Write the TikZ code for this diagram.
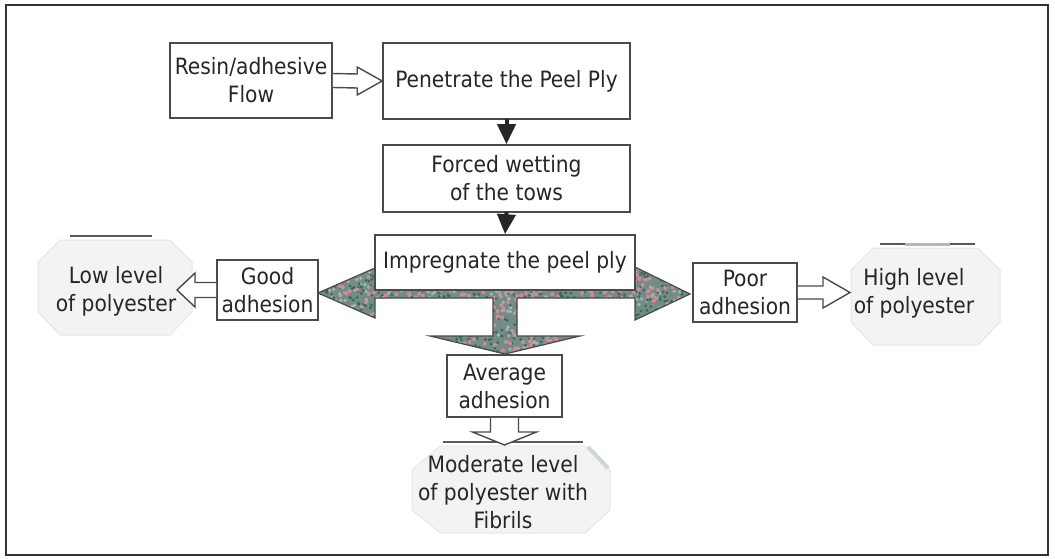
\documentclass[tikz,border=0pt]{standalone}
\usepackage{fontspec}
\setmainfont{DejaVu Sans Condensed}
\usetikzlibrary{arrows.meta,calc}
\definecolor{txt}{HTML}{262626}
\definecolor{edge}{HTML}{4A4A4A}
\definecolor{tealbase}{HTML}{748C86}
\definecolor{tealdark}{HTML}{2F6A60}
\definecolor{pinkdot}{HTML}{CF8C96}
\definecolor{lightdot}{HTML}{A9B5B1}
\definecolor{shade}{HTML}{F3F3F3}
\definecolor{shadeedge}{HTML}{E6E6E6}
\tikzset{
  stepbox/.style={draw=edge,line width=1.6pt,fill=white,text=txt,align=center,inner sep=0pt,
    font=\fontsize{22.5}{28}\selectfont},
  plain/.style={text=txt,align=center,inner sep=0pt,font=\fontsize{22.5}{28}\selectfont},
  hollow/.style={draw=edge,line width=1.4pt,fill=white,line join=miter},
  blackarrow/.style={draw=black!85,line width=4pt,-{Triangle[width=18pt,length=20pt]},shorten <=-1pt},
  blob/.style={fill=shade,draw=shadeedge,line width=1pt},
  capline/.style={draw=black!65,line width=2pt}
}
\begin{document}
\begin{tikzpicture}[x=1pt,y=-1pt]
\useasboundingbox (0,0) rectangle (1055,559);
\draw[line width=1.8pt,draw=black!80] (6,5) rectangle (1048,555);

% faded end shapes
\path[blob] (60,240) -- (170,240) -- (192,262) -- (192,312) -- (170,335) -- (60,335) -- (38,312) -- (38,262) -- cycle;
\draw[capline] (70,236) -- (152,236);
\path[blob] (873,248) -- (978,248) -- (1000,270) -- (1000,322) -- (978,345) -- (873,345) -- (851,322) -- (851,270) -- cycle;
\draw[capline] (880,244) -- (975,244);
\draw[line width=3pt,draw=tealbase!60] (905,244) -- (950,244);
\path[blob] (440,446) -- (585,446) -- (610,470) -- (610,510) -- (585,533) -- (440,533) -- (412,510) -- (412,470) -- cycle;
\draw[capline] (443,442) -- (583,442);
\draw[line width=4pt,draw=tealbase!35] (588,447) -- (608,468);

% three-way textured arrow
\def\tripath{(318,293) -- (375,268) -- (375,286) -- (635,286) -- (635,267) -- (690,294) -- (635,320) -- (635,298) -- (517,298) -- (517,336) -- (580,336) -- (505,354) -- (430,336) -- (493,336) -- (493,298) -- (375,298) -- (375,318) -- cycle}
\begin{scope}
  \clip \tripath;
  \fill[tealbase] (300,250) rectangle (700,360);
  \pgfmathsetseed{11}
  \foreach \i in {1,...,700}{
    \pgfmathsetmacro\rx{310+rnd*390}
    \pgfmathsetmacro\ry{262+rnd*95}
    \fill[lightdot] (\rx,\ry) circle (1.8);
  }
  \foreach \i in {1,...,900}{
    \pgfmathsetmacro\rx{310+rnd*390}
    \pgfmathsetmacro\ry{262+rnd*95}
    \fill[tealdark] (\rx,\ry) circle (1.5);
  }
  \foreach \i in {1,...,550}{
    \pgfmathsetmacro\rx{310+rnd*390}
    \pgfmathsetmacro\ry{262+rnd*95}
    \fill[pinkdot] (\rx,\ry) circle (2.0);
  }
\end{scope}
\draw[draw=edge,line width=1.2pt,line join=miter] \tripath;

% boxes
\node[stepbox,minimum width=162pt,minimum height=75pt] (resin) at (251,80.5) {Resin/adhesive\\Flow};
\node[stepbox,minimum width=247pt,minimum height=76pt] (pen) at (506.5,81) {Penetrate the Peel Ply};
\node[stepbox,minimum width=247pt,minimum height=67pt] (forced) at (506.5,178.5) {Forced wetting\\of the tows};
\node[stepbox,minimum width=260pt,minimum height=55pt] (imp) at (505,262.5) {Impregnate the peel ply};
\node[stepbox,minimum width=101pt,minimum height=60pt] (good) at (267.5,290) {Good\\adhesion};
\node[stepbox,minimum width=104pt,minimum height=59pt] (poor) at (745,292.5) {Poor\\adhesion};
\node[stepbox,minimum width=115pt,minimum height=62pt] (avg) at (504.5,386) {Average\\adhesion};

\node[plain] (low) at (116,291) {Low level\\of polyester};
\node[plain] (high) at (914,293) {High level\\of polyester};
\node[plain] (mod) at (503,492) {Moderate level\\of polyester with\\Fibrils};
\coordinate (lowtip) at (177,290);
\coordinate (hightip) at (850,292.5);
\coordinate (modtip) at (504.5,445);

% hollow arrows
\draw[hollow] ([yshift=7pt]resin.east) -- ([xshift=-25pt,yshift=7pt]pen.west) -- ([xshift=-25pt,yshift=14pt]pen.west) -- (pen.west) -- ([xshift=-25pt,yshift=-14pt]pen.west) -- ([xshift=-25pt,yshift=-7pt]pen.west) -- ([yshift=-7pt]resin.east);
\draw[hollow] ([yshift=7.5pt]good.west) -- ([xshift=18pt,yshift=7.5pt]lowtip) -- ([xshift=18pt,yshift=17pt]lowtip) -- (lowtip) -- ([xshift=18pt,yshift=-17pt]lowtip) -- ([xshift=18pt,yshift=-7.5pt]lowtip) -- ([yshift=-7.5pt]good.west);
\draw[hollow] ([yshift=6.5pt]poor.east) -- ([xshift=-27pt,yshift=6.5pt]hightip) -- ([xshift=-27pt,yshift=15.5pt]hightip) -- (hightip) -- ([xshift=-27pt,yshift=-15.5pt]hightip) -- ([xshift=-27pt,yshift=-6.5pt]hightip) -- ([yshift=-6.5pt]poor.east);
\draw[hollow] ([xshift=-14pt]avg.south) -- ([xshift=-14pt,yshift=13pt]modtip) -- ([xshift=-32pt,yshift=13pt]modtip) -- (modtip) -- ([xshift=32pt,yshift=13pt]modtip) -- ([xshift=14pt,yshift=13pt]modtip) -- ([xshift=14pt]avg.south);

% black arrows
\draw[blackarrow] (pen.south) -- (forced.north);
\draw[blackarrow] (forced.south) -- (imp.north);
\end{tikzpicture}
\end{document}
